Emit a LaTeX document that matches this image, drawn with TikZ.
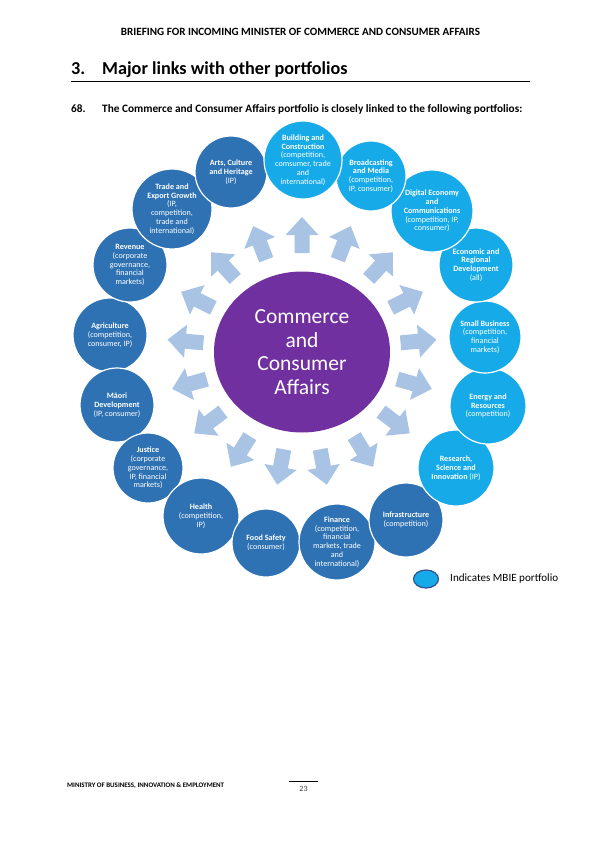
\documentclass[tikz,border=0pt]{standalone}
\usepackage{fontspec}
\setmainfont{Carlito}
\usetikzlibrary{shapes.geometric}
\definecolor{ccapurple}{RGB}{112,48,160}
\definecolor{portdark}{RGB}{46,114,180}
\definecolor{portlight}{RGB}{22,170,232}
\definecolor{arrowblue}{RGB}{168,195,228}
\definecolor{legendline}{RGB}{47,82,143}
\begin{document}
\begin{tikzpicture}[x=1pt, y=-1pt,
          every node/.style = {inner sep=0pt},
          port/.style = {circle, draw=white, line width=1.2pt,
            text=white, align=center,
            font=\fontsize{8.1}{8.8}\selectfont},
          mbie/.style = {port, fill=portlight},
          other/.style = {port, fill=portdark}]
        \useasboundingbox (0,0) rectangle (601,850);
        \node[anchor=base, font=\bfseries\fontsize{11.1}{13}\selectfont] (head) at (300.5,35.5)
          {BRIEFING FOR INCOMING MINISTER OF COMMERCE AND CONSUMER AFFAIRS};
        \node[anchor=base west, font=\bfseries\fontsize{18.2}{22}\selectfont] (secnum) at (71,75) {3.};
        \node[anchor=base west, font=\bfseries\fontsize{18.2}{22}\selectfont] (sectitle) at (102,75)
          {Major links with other portfolios};
        \draw[line width=0.9pt] (71,81) -- (530,81);
        \node[anchor=base west, font=\bfseries\fontsize{11.3}{13}\selectfont] (paranum) at (71,113) {68.};
        \node[anchor=base west, font=\bfseries\fontsize{11.3}{13}\selectfont] (para) at (102,113)
          {The Commerce and Consumer Affairs portfolio is closely linked to the following portfolios:};
        \node[ellipse, fill=ccapurple, minimum width=176, minimum height=161,
          text=white, align=center, font=\fontsize{21.5}{23.5}\selectfont] (cca) at (302,352)
          {Commerce\\and\\Consumer\\Affairs};
        \foreach \k in {0,...,16}
          \fill[arrowblue, shift={(cca.center)}, rotate=90-\k*360/17]
            (99,-7.5) -- (117,-7.5) -- (117,-16.5) -- (135,0) -- (117,16.5) -- (117,7.5) -- (99,7.5) -- cycle;
        \node[other, minimum size=74] (agri) at (110,335)
          {\textbf{Agriculture}\\(competition,\\consumer, IP)};
        \node[other, minimum size=74] (revenue) at (130,265)
          {\textbf{Revenue}\\(corporate\\governance,\\financial\\markets)};
        \node[other, minimum size=80] (trade) at (172,209)
          {\textbf{Trade and}\\\textbf{Export Growth}\\(IP,\\competition,\\trade and\\international)};
        \node[other, minimum size=72] (arts) at (231,172)
          {\textbf{Arts, Culture}\\\textbf{and Heritage}\\(IP)};
        \node[other, minimum size=74] (maori) at (117,405)
          {\textbf{Māori}\\\textbf{Development}\\(IP, consumer)};
        \node[other, minimum size=70] (justice) at (148,468)
          {\textbf{Justice}\\(corporate\\governance,\\IP, financial\\markets)};
        \node[other, minimum size=76] (health) at (201,516)
          {\textbf{Health}\\(competition,\\IP)};
        \node[other, minimum size=68] (food) at (266,543)
          {\textbf{Food Safety}\\(consumer)};
        \node[other, minimum size=76] (finance) at (337,542)
          {\textbf{Finance}\\(competition,\\financial\\markets, trade\\and\\international)};
        \node[other, minimum size=74] (infra) at (406,520)
          {\textbf{Infrastructure}\\(competition)};
        \node[mbie, minimum size=76] (research) at (456,468)
          {\textbf{Research,}\\\textbf{Science and}\\\textbf{Innovation} (IP)};
        \node[mbie, minimum size=76] (energy) at (488,406)
          {\textbf{Energy and}\\\textbf{Resources}\\(competition)};
        \node[mbie, minimum size=72] (small) at (485,337)
          {\textbf{Small Business}\\(competition,\\financial\\markets)};
        \node[mbie, minimum size=74] (econ) at (476,265)
          {\textbf{Economic and}\\\textbf{Regional}\\\textbf{Development}\\(all)};
        \node[mbie, minimum size=82] (digital) at (432,211)
          {\textbf{Digital Economy}\\\textbf{and}\\\textbf{Communications}\\(competition, IP,\\consumer)};
        \node[mbie, minimum size=70] (broad) at (371,176)
          {\textbf{Broadcasting}\\\textbf{and Media}\\(competition,\\IP, consumer)};
        \node[mbie, minimum size=78] (build) at (303,160)
          {\textbf{Building and}\\\textbf{Construction}\\(competition,\\comsumer, trade\\and\\international)};
        \node[ellipse, draw=legendline, line width=1.2pt, fill=portlight,
          minimum width=25, minimum height=18] (key) at (426,579) {};
        \node[anchor=base west, font=\fontsize{11.1}{13}\selectfont] (keytext) at (450,581)
          {Indicates MBIE portfolio};
        \node[anchor=base west, font=\bfseries\fontsize{6.9}{8}\selectfont] (ministry) at (67,787)
          {MINISTRY OF BUSINESS, INNOVATION \& EMPLOYMENT};
        \draw[line width=0.8pt] (289,781) -- (318,781);
        \node[anchor=base, text=black!75, font=\fontsize{8}{10}\selectfont] (pageno) at (303.5,791) {23};
\end{tikzpicture}
\end{document}
